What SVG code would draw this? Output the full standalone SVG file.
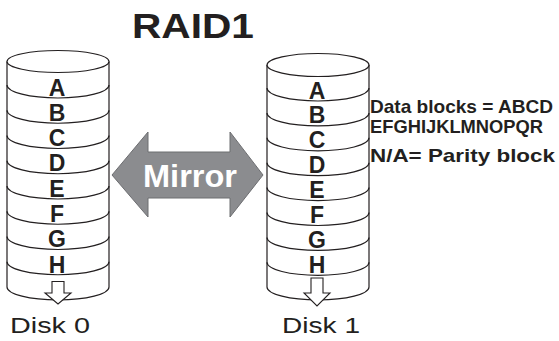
<svg xmlns="http://www.w3.org/2000/svg" width="559" height="341" viewBox="0 0 559 341">
<style>
.ln{fill:none;stroke:#231f20;stroke-width:1.2}
.top{fill:#fff;stroke:#231f20;stroke-width:1.2}
.lt{font-family:"Liberation Sans",Arial,sans-serif;font-weight:bold;font-size:23px;fill:#231f20;text-anchor:middle}
.cap{font-family:"Liberation Sans",Arial,sans-serif;font-size:22px;fill:#231f20}
.note{font-family:"Liberation Sans",Arial,sans-serif;font-weight:bold;font-size:18.5px;fill:#231f20}
.dn{fill:#fff;stroke:#231f20;stroke-width:1.1}
</style>
<rect width="559" height="341" fill="#fff"/>
<text x="132" y="38" font-family="Liberation Sans, Arial, sans-serif" font-weight="bold" font-size="35" fill="#231f20" textLength="122" lengthAdjust="spacingAndGlyphs">RAID1</text>

<g id="disk0">
<path class="ln" d="M7,61.5 V287 M109,61.5 V287"/>
<ellipse class="top" cx="58" cy="61.5" rx="51" ry="11"/>
<path class="ln" d="M7,85 A51 13 0 0 0 109,85 M7,110.25 A51 13 0 0 0 109,110.25 M7,135.5 A51 13 0 0 0 109,135.5 M7,160.75 A51 13 0 0 0 109,160.75 M7,186 A51 13 0 0 0 109,186 M7,211.25 A51 13 0 0 0 109,211.25 M7,236.5 A51 13 0 0 0 109,236.5 M7,261.75 A51 13 0 0 0 109,261.75 M7,287 A51 13 0 0 0 109,287"/>
<text class="lt" x="57" y="95.5">A</text>
<text class="lt" x="57" y="120.75">B</text>
<text class="lt" x="57" y="146">C</text>
<text class="lt" x="57" y="171.25">D</text>
<text class="lt" x="57" y="196.5">E</text>
<text class="lt" x="57" y="221.75">F</text>
<text class="lt" x="57" y="247">G</text>
<text class="lt" x="57" y="272.5">H</text>
<polygon class="dn" points="52,281.5 64,281.5 64,293 71,293 58,304 45,293 52,293"/>
<text class="cap" x="10" y="333" textLength="80" lengthAdjust="spacingAndGlyphs">Disk 0</text>
</g>

<g id="disk1">
<path class="ln" d="M267,65 V287 M369,65 V287"/>
<ellipse class="top" cx="318" cy="65" rx="51" ry="11.5"/>
<path class="ln" d="M267,88 A51 13 0 0 0 369,88 M267,112.9 A51 13 0 0 0 369,112.9 M267,137.8 A51 13 0 0 0 369,137.8 M267,162.7 A51 13 0 0 0 369,162.7 M267,187.6 A51 13 0 0 0 369,187.6 M267,212.5 A51 13 0 0 0 369,212.5 M267,237.4 A51 13 0 0 0 369,237.4 M267,262.3 A51 13 0 0 0 369,262.3 M267,287 A51 13 0 0 0 369,287"/>
<text class="lt" x="317" y="98.5">A</text>
<text class="lt" x="317" y="123.4">B</text>
<text class="lt" x="317" y="148.3">C</text>
<text class="lt" x="317" y="173.2">D</text>
<text class="lt" x="317" y="198.1">E</text>
<text class="lt" x="317" y="223">F</text>
<text class="lt" x="317" y="247.9">G</text>
<text class="lt" x="317" y="273">H</text>
<polygon class="dn" points="311,278 323,278 323,293 330,293 317,306 304,293 311,293"/>
<text class="cap" x="282" y="333" textLength="78" lengthAdjust="spacingAndGlyphs">Disk 1</text>
</g>

<g id="connectors">
<g id="mirror">
<polygon points="112,175 148,132 148,152 230,152 230,132 263,175 230,217 230,198 148,198 148,217" fill="#8b8c8f" stroke="#6d6e71" stroke-width="1"/>
<text x="190" y="187" font-family="Liberation Sans, Arial, sans-serif" font-weight="bold" font-size="32" fill="#fff" text-anchor="middle" textLength="94" lengthAdjust="spacingAndGlyphs">Mirror</text>
</g>
</g>

<g id="legend">
<text class="note" x="370" y="113" textLength="183" lengthAdjust="spacingAndGlyphs">Data blocks = ABCD</text>
<text class="note" x="370" y="133" textLength="173" lengthAdjust="spacingAndGlyphs">EFGHIJKLMNOPQR</text>
<text class="note" x="370" y="162" textLength="185" lengthAdjust="spacingAndGlyphs">N/A= Parity block</text>
</g>
</svg>
